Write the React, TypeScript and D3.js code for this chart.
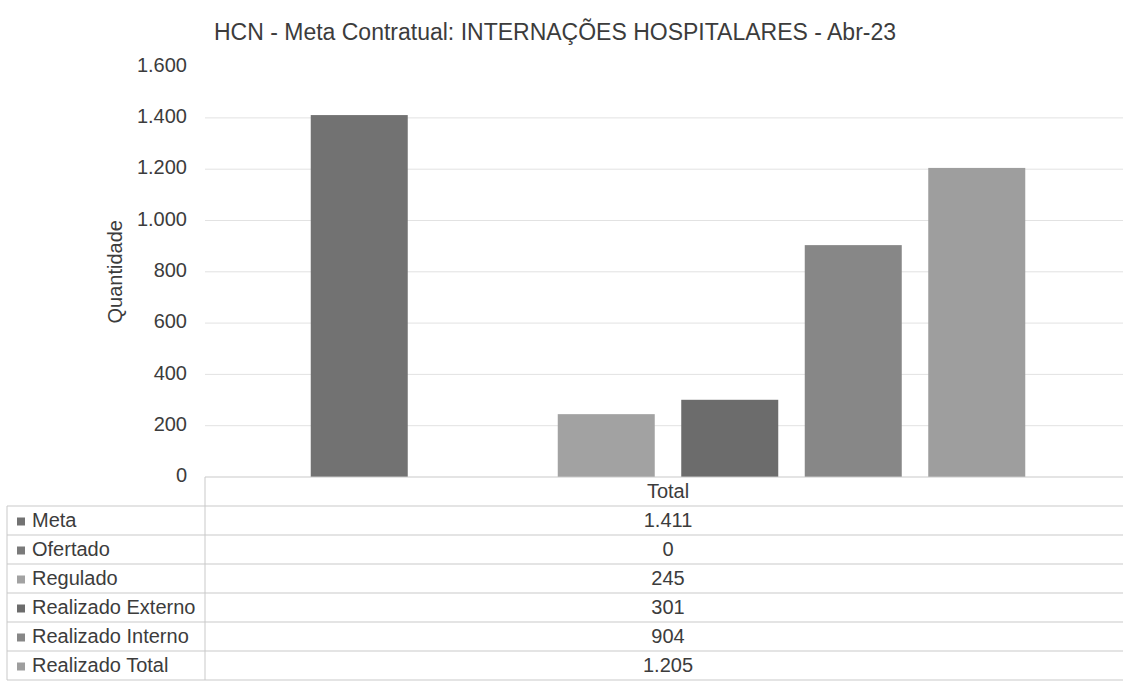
import React from "react";
import * as d3 from "d3";

const title = "HCN - Meta Contratual: INTERNAÇÕES HOSPITALARES - Abr-23";
const yAxisTitle = "Quantidade";
const categories = ["Total"];
const seriesNames = ["Meta", "Ofertado", "Regulado", "Realizado Externo", "Realizado Interno", "Realizado Total"];
const seriesValues = [1411, 0, 245, 301, 904, 1205];
const seriesColors = ["#727272", "#7a7a7a", "#a2a2a2", "#6c6c6c", "#878787", "#9e9e9e"];
const yTicks = [0, 200, 400, 600, 800, 1000, 1200, 1400, 1600];

const W = 1123;
const H = 688;
const plotLeft = 205;
const plotRight = 1131;
const yTop = 66.6;
const yBottom = 477;
const headerH = 29;
const rowH = 29;
const legendLeft = 7;

const locale = d3.formatLocale({ decimal: ",", thousands: ".", grouping: [3], currency: ["R$", ""] });
const fmt = locale.format(",d");

export default function App() {
  const y = d3.scaleLinear().domain([0, 1600]).range([yBottom, yTop]);
  const x0 = d3.scaleBand().domain(categories).range([plotLeft, plotRight]).paddingInner(0).paddingOuter(0.148);
  const x1 = d3
    .scaleBand()
    .domain(seriesNames)
    .range([0, x0.bandwidth()])
    .paddingInner(0.2146)
    .paddingOuter(0);

  const font = "'Liberation Sans', Arial, sans-serif";
  const textColor = "#3c3c3c";
  const lineColor = "#c9c9c9";
  const gridColor = "#e2e2e2";
  const tableTop = yBottom;
  const rowsTop = tableTop + headerH;
  const tableBottom = rowsTop + rowH * seriesNames.length;

  return (
    <svg
      width={W}
      height={H}
      style={{ position: "absolute", left: 0, top: 0, display: "block", background: "#fff" }}
      fontFamily={font}
    >
      <rect x={0} y={0} width={W} height={H} fill="#fff" />
      <text x={555} y={34} textAnchor="middle" dominantBaseline="middle" fontSize={23} fill={textColor}>
        {title}
      </text>

      {/* gridlines */}
      {yTicks
        .filter((t) => t > 0 && t < 1600)
        .map((t) => (
          <line key={"g" + t} x1={plotLeft} x2={W} y1={y(t)} y2={y(t)} stroke={gridColor} strokeWidth={1} />
        ))}

      {/* y tick labels */}
      {yTicks.map((t) => (
        <text
          key={"t" + t}
          x={187}
          y={y(t)}
          textAnchor="end"
          dominantBaseline="middle"
          fontSize={20}
          fill={textColor}
        >
          {fmt(t)}
        </text>
      ))}

      <text
        transform={`translate(117, ${(y(600) + y(1000)) / 2}) rotate(-90)`}
        textAnchor="middle"
        dominantBaseline="middle"
        fontSize={20}
        fill={textColor}
      >
        {yAxisTitle}
      </text>

      {/* bars */}
      {categories.map((c) => (
        <g key={c} transform={`translate(${x0(c)},0)`}>
          {seriesNames.map((s, i) => (
            <rect
              key={s}
              x={x1(s)}
              y={y(seriesValues[i])}
              width={x1.bandwidth()}
              height={yBottom - y(seriesValues[i])}
              fill={seriesColors[i]}
            />
          ))}
        </g>
      ))}

      {/* data table */}
      <line x1={plotLeft} x2={W} y1={tableTop} y2={tableTop} stroke={lineColor} />
      <line x1={plotLeft} x2={plotLeft} y1={tableTop} y2={tableBottom} stroke={lineColor} />
      <line x1={legendLeft} x2={legendLeft} y1={rowsTop} y2={tableBottom} stroke={lineColor} />
      {seriesNames.map((s, i) => (
        <line
          key={"hl" + s}
          x1={legendLeft}
          x2={W}
          y1={rowsTop + i * rowH}
          y2={rowsTop + i * rowH}
          stroke={lineColor}
        />
      ))}
      <line x1={legendLeft} x2={W} y1={tableBottom} y2={tableBottom} stroke={lineColor} />

      {categories.map((c) => (
        <text
          key={"h" + c}
          x={(x0(c) as number) + x0.bandwidth() / 2}
          y={tableTop + headerH / 2 + 1}
          textAnchor="middle"
          dominantBaseline="middle"
          fontSize={20}
          fill={textColor}
        >
          {c}
        </text>
      ))}

      {seriesNames.map((s, i) => {
        const cy = rowsTop + i * rowH + rowH / 2 + 1;
        return (
          <g key={"row" + s}>
            <rect x={17} y={cy - 4} width={8} height={8} fill={seriesColors[i]} />
            <text x={32} y={cy} dominantBaseline="middle" fontSize={20} fill={textColor}>
              {s}
            </text>
            {categories.map((c) => (
              <text
                key={c}
                x={(x0(c) as number) + x0.bandwidth() / 2}
                y={cy}
                textAnchor="middle"
                dominantBaseline="middle"
                fontSize={20}
                fill={textColor}
              >
                {fmt(seriesValues[i])}
              </text>
            ))}
          </g>
        );
      })}
    </svg>
  );
}
